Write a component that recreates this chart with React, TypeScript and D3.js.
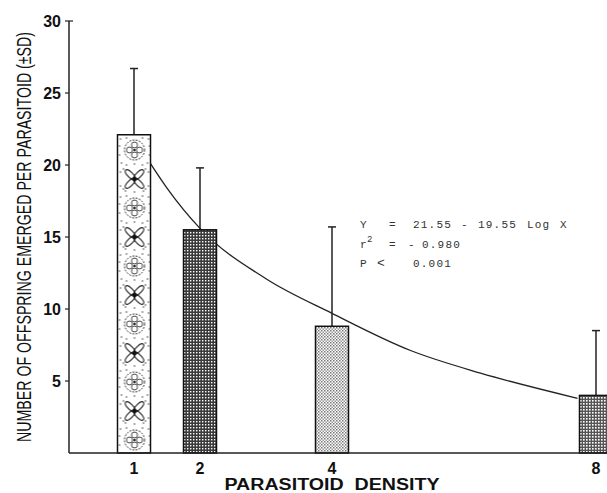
import React from "react";
import * as d3 from "d3";

// parasitoid density (x) and mean offspring per parasitoid
const densities = [1, 2, 4, 8];
const means = [22.1, 15.5, 8.8, 4.0];
const sds = [4.6, 4.3, 6.9, 4.5];
const patternIds = ["pat-floral", "pat-grid", "pat-check", "pat-grid-light"];

// fitted curve
const curveX = [1.25, 1.5, 2, 3, 4, 5.2, 6.25, 7.72];
const curveY = [20.1, 18.4, 15.6, 12.1, 9.7, 7.1, 5.55, 3.8];

const yTicks = [5, 10, 15, 20, 25, 30];

const W = 607;
const H = 493;

// speckles for the floral fill
const speckles = [
  [3, 3], [31, 3], [9, 2], [25, 2], [2, 10], [32, 10], [2, 19], [32, 19],
  [4, 27], [30, 27], [17, 28], [9, 29], [25, 29], [3, 36], [31, 36],
  [3, 50], [31, 50], [8, 55], [26, 55], [17, 56], [6, 33], [28, 33],
  [6, 53], [28, 53],
];

export default function App() {
  const x = d3.scaleLinear().domain([0, 8.5]).range([68, 629]);
  const y = d3.scaleLinear().domain([0, 30]).range([453, 21]);
  const barW = x(0.5) - x(0);

  const line = d3
    .line<number>()
    .x((d, i) => x(curveX[i]))
    .y((d) => y(d))
    .curve(d3.curveMonotoneX);

  const sans = "'Liberation Sans', Arial, sans-serif";
  const mono = "'Liberation Mono', 'DejaVu Sans Mono', monospace";

  return (
    <svg width={W} height={H} style={{ position: "absolute", left: 0, top: 0, background: "#fff" }}>
      <defs>
        <pattern id="pat-floral" patternUnits="userSpaceOnUse" x={x(1) - barW / 2} y={136} width={34} height={58}>
          <rect width={34} height={58} fill="#fff" />
          {/* ring motif */}
          <circle cx={17} cy={14} r={10} fill="none" stroke="#222" strokeWidth={1} strokeDasharray="1.8 1.4" />
          <g fill="none" stroke="#333" strokeWidth={0.9}>
            <circle cx={17} cy={9} r={3} />
            <circle cx={17} cy={19} r={3} />
            <circle cx={12} cy={14} r={3} />
            <circle cx={22} cy={14} r={3} />
          </g>
          <circle cx={17} cy={14} r={1.2} fill="#222" />
          {/* four-petal flower */}
          <g stroke="#222" strokeWidth={1.1} fill="none">
            <ellipse cx={17} cy={43} rx={2.6} ry={6.5} transform="rotate(45 17 43) translate(0 -6)" />
            <ellipse cx={17} cy={43} rx={2.6} ry={6.5} transform="rotate(45 17 43) translate(0 6)" />
            <ellipse cx={17} cy={43} rx={2.6} ry={6.5} transform="rotate(-45 17 43) translate(0 -6)" />
            <ellipse cx={17} cy={43} rx={2.6} ry={6.5} transform="rotate(-45 17 43) translate(0 6)" />
          </g>
          <circle cx={17} cy={43} r={2.2} fill="#111" />
          <g fill="#444">
            {speckles.map(([sx, sy], i) => (
              <circle key={i} cx={sx} cy={sy} r={0.8} />
            ))}
          </g>
        </pattern>
        <pattern id="pat-grid" patternUnits="userSpaceOnUse" width={3} height={3}>
          <rect width={3} height={3} fill="#3a3a3a" />
          <rect x={1} y={1} width={1.4} height={1.4} fill="#fff" />
        </pattern>
        <pattern id="pat-check" patternUnits="userSpaceOnUse" width={3} height={3}>
          <rect width={3} height={3} fill="#fff" />
          <rect x={0} y={0} width={1.5} height={1.5} fill="#777" />
          <rect x={1.5} y={1.5} width={1.5} height={1.5} fill="#999" />
        </pattern>
        <pattern id="pat-grid-light" patternUnits="userSpaceOnUse" width={3} height={3}>
          <rect width={3} height={3} fill="#555" />
          <rect x={1} y={1} width={1.6} height={1.6} fill="#fff" />
        </pattern>
      </defs>

      {/* fitted curve, drawn under the bars */}
      <path d={line(curveY) ?? ""} fill="none" stroke="#222" strokeWidth={1.3} />

      {/* error bars */}
      {densities.map((d, i) => (
        <g key={"err" + d} stroke="#222" strokeWidth={1.5}>
          <line x1={x(d)} x2={x(d)} y1={y(means[i])} y2={y(means[i] + sds[i])} />
          <line x1={x(d) - 4} x2={x(d) + 4} y1={y(means[i] + sds[i])} y2={y(means[i] + sds[i])} />
        </g>
      ))}

      {/* bars */}
      {densities.map((d, i) => (
        <rect
          key={"bar" + d}
          x={x(d) - barW / 2}
          y={y(means[i])}
          width={barW}
          height={y(0) - y(means[i])}
          fill={`url(#${patternIds[i]})`}
          stroke="#111"
          strokeWidth={1.5}
        />
      ))}

      {/* axes */}
      <line x1={x(0) + 1} x2={x(0) + 1} y1={y(30)} y2={y(0)} stroke="#222" strokeWidth={1.5} />
      <line x1={x(0) + 1} x2={W} y1={y(0)} y2={y(0)} stroke="#222" strokeWidth={1.5} />
      <line x1={x(0) + 1} x2={x(0) + 5} y1={y(30)} y2={y(30)} stroke="#222" strokeWidth={1.2} />
      {yTicks.map((t) => (
        <g key={"yt" + t}>
          <line x1={x(0) - 3} x2={x(0) + 1} y1={y(t)} y2={y(t)} stroke="#222" strokeWidth={1.2} />
          <text x={61} y={y(t) + 6} textAnchor="end" fontFamily={sans} fontWeight="bold" fontSize={16} fill="#111">
            {t}
          </text>
        </g>
      ))}
      {densities.map((d) => (
        <text key={"xt" + d} x={x(d)} y={474} textAnchor="middle" fontFamily={sans} fontWeight="bold" fontSize={16} fill="#111">
          {d}
        </text>
      ))}

      <text x={332} y={490} textAnchor="middle" fontFamily={sans} fontWeight="bold" fontSize={16} fill="#111" textLength={215} lengthAdjust="spacingAndGlyphs" style={{ whiteSpace: "pre" }}>
        {"PARASITOID  DENSITY"}
      </text>
      <text
        transform="translate(31,237) rotate(-90) scale(1,1.3)"
        textAnchor="middle"
        fontFamily={sans}
        fontSize={15}
        fill="#111"
        textLength={410}
        lengthAdjust="spacingAndGlyphs"
      >
        NUMBER OF OFFSPRING EMERGED PER PARASITOID (±SD)
      </text>

      {/* regression annotation */}
      <g fontFamily={mono} fontSize={11} fill="#333" letterSpacing={1.2}>
        <text x={360} y={228}>Y</text>
        <text x={389} y={228}>=</text>
        <text x={413} y={228}>21.55</text>
        <text x={461} y={228}>-</text>
        <text x={478} y={228}>19.55</text>
        <text x={527} y={228}>Log</text>
        <text x={560} y={228}>X</text>

        <text x={360} y={248}>r</text>
        <text x={367} y={242} fontSize={9}>2</text>
        <text x={389} y={248}>=</text>
        <text x={408} y={248}>-</text>
        <text x={422} y={248}>0.980</text>

        <text x={360} y={267}>P</text>
        <text x={377} y={267} fontSize={13}>&lt;</text>
        <text x={413} y={267}>0.001</text>
      </g>
    </svg>
  );
}
